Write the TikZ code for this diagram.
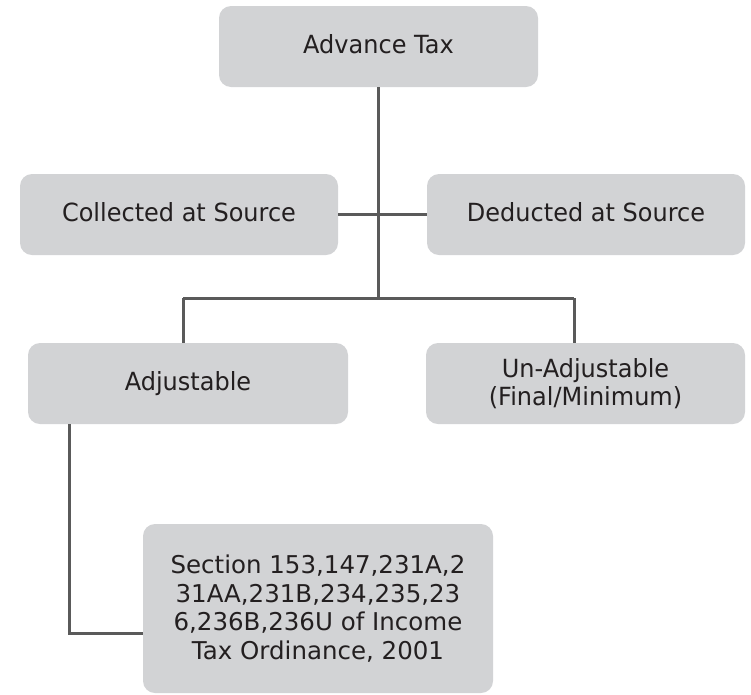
\documentclass[tikz,border=0pt]{standalone}
\usepackage{fontspec}
\setmainfont{DejaVu Sans}
\newfontfamily\condfont{DejaVu Sans}[FakeStretch=0.96]
\definecolor{boxgray}{HTML}{D2D3D5}
\definecolor{linegray}{HTML}{5A5A5A}
\definecolor{txt}{HTML}{231F20}
\begin{document}
\begin{tikzpicture}[x=1pt,y=-1pt,
  box/.style={rectangle, rounded corners=12pt, fill=boxgray, text=txt, align=center,
    inner sep=0pt, font=\condfont\fontsize{25}{28.5}\selectfont},
  single/.style={text depth=6pt},
  conn/.style={draw=linegray, line width=3pt}]
\useasboundingbox (0,0) rectangle (751,694);
\node[box, single, minimum width=319pt, minimum height=81pt] (adv) at (378.5,46.5) {Advance Tax};
\node[box, single, minimum width=318pt, minimum height=81pt] (coll) at (179,214.5) {Collected at Source};
\node[box, single, minimum width=318pt, minimum height=81pt] (ded) at (586,214.5) {Deducted at Source};
\node[box, single, minimum width=320pt, minimum height=81pt] (adj) at (188,383.5) {Adjustable};
\node[box, minimum width=319pt, minimum height=81pt] (unadj) at (585.5,383.5) {Un-Adjustable\\(Final/Minimum)};
\node[box, minimum width=350pt, minimum height=169pt, font=\fontsize{24.5}{28.5}\selectfont] (sec) at (318,608.5) {Section 153,147,231A,2\\31AA,231B,234,235,23\\6,236B,236U of Income\\Tax Ordinance, 2001};
\coordinate (j) at (378,298);
\coordinate (jl) at (183,298);
\coordinate (jr) at (574,298);
\coordinate (c1) at (69,633);
\draw[conn] (adv.south -| j) -- (j);
\draw[conn] (coll.east) -- (ded.west);
\draw[conn] (jl) -- (jr);
\draw[conn] (jl) -- (adj.north -| jl);
\draw[conn] (jr) -- (unadj.north -| jr);
\draw[conn] (adj.south -| c1) -- (c1) -- (c1 -| sec.west);
\end{tikzpicture}
\end{document}
